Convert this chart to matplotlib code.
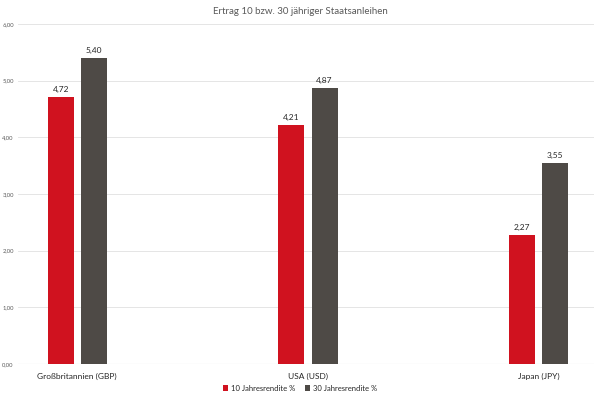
import matplotlib
matplotlib.use("Agg")
import matplotlib.pyplot as plt
import numpy as np

categories = ["Großbritannien (GBP)", "USA (USD)", "Japan (JPY)"]
rendite_10 = [4.72, 4.21, 2.27]
rendite_30 = [5.40, 4.87, 3.55]
series_names = ["10 Jahresrendite %", "30 Jahresrendite %"]
yticks = [0, 1, 2, 3, 4, 5, 6]

RED = "#d0121f"
GRAY = "#4e4a46"
TXT = "#595959"

plt.rcParams["font.family"] = ["Lato", "DejaVu Sans"]

fig = plt.figure(figsize=(6, 3.98), dpi=100)
ax = fig.add_axes([0.03, 0.0854, 0.96, 0.8543])

x = np.arange(len(categories))
w = 0.113
off = 0.072
b1 = ax.bar(x - off, rendite_10, w, color=RED, label=series_names[0], zorder=3)
b2 = ax.bar(x + off, rendite_30, w, color=GRAY, label=series_names[1], zorder=3)

for bars in (b1, b2):
    for r in bars:
        ax.text(r.get_x() + r.get_width() / 2, r.get_height() + 0.07,
                f"{r.get_height():.2f}".replace(".", ","),
                ha="center", va="bottom", fontsize=6, color="#262626")

ax.set_xlim(-0.257, 2.24)
ax.set_ylim(0, 6)
ax.set_yticks(yticks)
ax.set_yticklabels([f"{v:.2f}".replace(".", ",") for v in yticks], fontsize=4.2, color=TXT)
ax.set_xticks(x)
ax.set_xticklabels(categories, fontsize=6, color="#262626")
ax.tick_params(length=0, pad=3)
ax.tick_params(axis="x", pad=6)
ax.grid(axis="y", color="#e5e5e5", linewidth=0.7, zorder=0)
for s in ax.spines.values():
    s.set_visible(False)
ax.axhline(0, color="#d9d9d9", linewidth=0.8, zorder=2)

fig.text(0.5, 0.97, "Ertrag 10 bzw. 30 jähriger Staatsanleihen", ha="center", va="center",
         fontsize=7, color=TXT)

fig.legend(handles=[b1, b2], loc="center", bbox_to_anchor=(0.5, 0.025), ncol=2,
           frameon=False, fontsize=5.5, handlelength=0.7, handleheight=0.7,
           handletextpad=0.4, columnspacing=1.2, labelcolor="#262626")

fig.savefig("out.png", dpi=100)
